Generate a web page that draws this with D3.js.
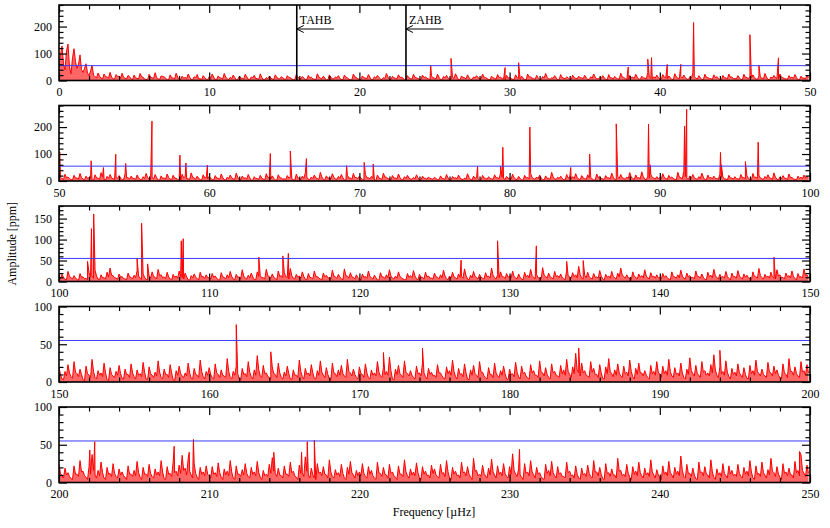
<!DOCTYPE html>
<html><head><meta charset="utf-8">
<script src="https://cdn.jsdelivr.net/npm/d3@7"></script>
<style>
body{margin:0;background:#fff}
text{font-family:"Liberation Serif","Times New Roman",serif;fill:#000}
</style>
</head><body>
<svg id="chart" width="830" height="528"></svg>
<script>
// ---------------- DATA ----------------
const panelRanges = [[0,50],[50,100],[100,150],[150,200],[200,250]];
const yMax = [280,280,180,100,100];
const yMajor = [100,100,50,50,50];
const yMinor = [20,20,10,10,10];
const xMajor = 10, xMinor = 2;
const threshold = 55;            // ppm, blue line
const step = 0.2;                // µHz between noise crests (troughs sit half-way)
const xLabel = "Frequency [µHz]";
const yLabel = "Amplitude [ppm]";

// noise crests, one every 0.2 µHz
const noise1 = [
70,128,40,135,25,118,45,95,30,62,18,56,14,28,9,24,13,30,6,22,15,27,8,19,5,
20,8,26,12,4,23,10,29,6,17,13,3,21,9,27,5,16,11,24,4,14,22,7,18,5,
14,24,4,17,9,26,6,12,20,3,15,8,23,5,13,19,7,25,3,11,16,6,21,8,14,
6,18,10,3,22,8,15,4,19,12,5,25,9,16,2,21,7,13,18,4,20,10,3,24,11,
5,17,9,22,3,14,19,6,11,26,4,16,8,21,12,3,18,7,23,10,5,20,13,6,17,
9,23,4,15,19,6,12,25,3,17,10,21,5,13,18,7,24,11,4,16,8,22,12,5,19,
11,5,21,9,16,3,24,13,7,19,4,15,26,6,10,18,2,22,9,14,5,20,8,16,10,
19,5,14,24,7,11,18,4,22,10,15,6,27,11,3,19,12,23,5,16,9,29,8,14,20,
6,22,11,17,4,25,9,15,20,5,12,28,8,18,4,23,11,7,21,14,3,19,10,24,13,
7,18,4,23,11,15,21,5,17,9,26,4,13,19,8,24,10,6,18,12,22,3,16,9,20];
const noise2 = [
30,9,25,15,5,21,11,28,7,18,13,4,23,10,31,6,17,24,8,14,20,5,27,12,18,
9,22,6,16,28,8,13,24,4,19,11,26,7,21,10,3,25,15,8,30,11,18,5,23,12,
17,6,20,10,26,5,14,22,8,29,6,18,12,24,3,16,9,21,7,27,13,19,4,23,11,
8,20,14,5,25,10,18,30,7,15,22,9,32,6,19,12,27,8,17,24,4,21,11,28,13,
18,6,24,12,17,3,22,9,29,14,7,20,11,26,5,16,21,8,13,23,4,18,10,15,8,
14,5,19,9,24,3,17,12,22,7,11,27,6,18,13,3,21,10,16,8,23,12,30,9,17,
11,25,7,17,4,21,13,28,9,15,22,6,19,10,32,8,14,18,5,24,12,16,27,7,20,
9,23,13,4,26,16,8,20,12,29,6,17,24,10,15,31,9,22,13,34,7,18,25,11,16,
13,27,9,21,15,6,32,12,36,10,19,24,8,16,29,5,22,13,18,9,25,14,7,21,11,
16,8,24,12,19,5,28,14,21,8,17,23,10,30,7,15,20,9,26,13,6,18,14,22,17];
const noise3 = [
10,17,5,24,9,14,4,19,11,7,21,13,27,6,16,9,22,32,14,8,18,12,6,20,10,
15,26,8,18,5,13,23,10,29,16,11,22,6,17,13,25,9,20,4,14,18,7,22,12,16,
9,19,13,4,21,10,16,24,6,17,11,28,8,15,20,5,23,14,9,29,12,18,7,25,14,
21,10,31,8,17,13,23,5,19,9,25,12,6,20,15,8,27,11,17,7,30,13,21,10,16,
6,18,12,25,9,15,4,21,11,16,28,8,13,23,9,5,19,14,26,7,17,10,22,13,8,
20,10,16,27,7,13,22,9,18,12,30,6,15,24,10,17,8,21,13,32,9,16,23,11,19,
13,25,9,18,6,22,15,29,10,16,8,33,12,20,9,24,14,18,7,27,11,21,16,36,9,
15,22,8,19,11,26,6,17,13,24,9,20,32,12,16,7,23,10,18,14,28,9,21,13,16,
9,19,14,6,23,11,16,27,8,20,14,10,25,12,18,5,22,15,29,9,17,12,24,7,20,
12,26,9,18,15,6,23,11,31,9,17,13,22,8,28,16,10,20,14,25,7,19,12,30,16];
const noise4 = [
19,4,14,23,7,27,11,17,3,21,9,30,6,15,12,25,3,19,8,14,22,5,17,10,24,
7,16,11,26,4,20,9,13,28,6,17,10,23,3,15,21,8,12,25,5,18,9,29,7,14,
19,6,24,10,16,8,31,6,14,21,4,18,11,27,7,16,35,8,22,12,5,20,10,25,6,
13,21,4,16,9,29,7,18,12,23,5,15,28,9,19,4,25,11,16,22,8,30,12,17,6,
20,10,24,6,16,12,27,8,19,14,33,4,17,22,9,28,11,15,6,21,12,25,7,18,13,
9,23,12,5,20,15,29,7,18,11,24,4,16,22,9,27,13,6,19,10,25,8,15,21,4,
17,11,26,7,21,13,5,23,15,9,28,12,19,6,24,14,8,22,16,30,10,20,38,12,25,
15,8,27,18,10,23,5,20,31,11,16,24,8,21,13,29,7,18,25,12,15,6,22,14,27,
10,21,15,30,8,19,12,25,6,17,32,11,22,9,27,15,12,23,36,9,20,14,28,7,18,
13,24,9,19,5,22,15,29,11,17,8,26,12,21,16,6,24,10,31,14,20,8,27,15,23];
const noise5 = [
24,9,19,13,5,22,11,29,15,7,21,37,10,16,27,6,20,12,25,8,18,14,7,22,11,
16,28,7,20,11,24,8,18,14,29,5,21,12,27,15,23,36,19,32,10,25,7,20,14,22,
9,21,13,26,7,18,15,29,6,22,11,17,25,8,20,14,28,7,16,11,24,33,12,19,9,
22,11,27,15,7,23,13,34,10,19,6,25,14,21,10,30,8,17,13,24,6,20,28,10,16,
14,25,8,21,16,6,27,12,20,10,24,14,7,22,11,30,9,18,14,26,6,21,15,10,23,
18,8,24,13,29,6,20,15,10,27,14,21,7,32,16,11,23,9,19,31,10,22,14,25,8,
21,38,11,18,7,25,14,29,10,20,13,5,24,16,28,9,21,13,8,27,15,10,22,6,19,
12,23,8,29,14,20,5,25,13,18,10,32,16,11,24,7,21,15,27,9,19,13,30,10,17,
6,22,14,28,10,20,15,35,8,24,12,19,5,27,14,21,10,30,7,18,13,25,9,22,16,
11,24,8,20,15,29,6,22,12,27,10,17,32,13,21,7,25,14,19,10,28,16,37,12,23];

// noise troughs, half-way between crests
const trough1 = [
95,60,110,50,85,70,60,40,45,28,35,20,10,16,6,14,9,13,5,15,8,12,6,14,4,
10,6,14,5,3,12,8,11,4,15,9,3,10,6,13,4,9,7,12,3,10,6,4,11,3,
8,12,4,10,6,13,3,7,11,4,9,6,14,3,10,7,4,12,3,7,9,4,11,6,10,
4,11,6,3,12,7,9,4,10,6,3,13,7,9,2,11,6,10,7,3,12,5,3,13,6,
3,10,7,12,4,9,11,3,7,13,4,10,6,11,9,3,10,5,12,7,4,11,8,3,10,
6,12,3,10,9,4,8,13,3,11,6,10,4,9,11,6,12,7,3,10,5,11,7,3,9,
7,4,11,6,10,3,13,9,4,10,3,9,12,5,8,10,3,11,6,9,4,11,6,10,7,
10,3,9,12,6,8,11,3,10,6,9,4,13,7,3,11,8,12,4,10,6,13,5,9,11,
5,12,7,10,3,13,6,9,11,4,8,14,6,10,3,12,7,4,11,9,3,10,6,12,7,
6,10,3,12,7,9,11,4,10,6,13,3,9,11,5,12,7,4,10,8,11,3,9,6,11];
const trough2 = [
14,6,12,9,4,11,7,13,5,10,8,3,12,6,15,4,10,12,6,9,11,4,13,7,10,
6,12,4,9,13,6,8,12,3,10,7,13,5,11,6,3,12,9,6,14,7,10,4,12,8,
10,4,11,6,13,4,9,12,6,14,5,10,7,12,3,9,6,11,4,13,8,10,3,12,7,
6,11,9,4,12,6,10,14,5,9,11,6,15,4,10,8,13,6,10,12,3,11,7,13,9,
10,4,12,8,10,3,11,6,14,9,4,11,7,13,4,9,11,6,8,12,3,10,6,9,6,
9,4,10,6,12,3,10,8,11,5,7,13,4,10,8,3,11,6,9,6,12,8,14,6,10,
7,12,5,10,3,11,8,13,6,9,11,4,10,6,15,6,9,10,4,12,7,9,13,5,11,
6,12,8,3,13,9,6,11,8,14,4,10,12,6,9,15,6,11,8,16,4,10,13,7,9,
8,13,6,11,9,4,15,8,16,6,10,12,6,9,14,4,11,8,10,6,12,9,4,11,7,
9,6,12,8,10,4,13,9,11,6,10,12,6,14,4,9,11,6,13,8,4,10,9,12,10];
const trough3 = [
6,10,4,12,6,9,3,10,7,4,11,8,13,4,9,6,11,15,9,5,10,7,4,11,6,
9,13,5,10,4,8,12,6,14,9,7,11,4,10,8,12,6,11,3,9,10,4,11,7,9,
6,10,8,3,11,6,9,12,4,10,7,13,6,9,11,4,12,9,6,14,8,10,4,12,9,
11,6,14,6,10,8,12,4,10,6,12,8,4,11,9,6,13,8,10,4,14,8,11,6,9,
4,10,8,12,6,9,3,11,7,9,13,6,8,12,6,4,10,9,13,4,10,6,11,8,6,
11,6,9,13,4,8,11,6,10,8,14,4,9,12,6,10,6,11,8,15,6,9,12,7,10,
8,12,6,10,4,11,9,14,6,9,6,15,8,11,6,12,9,10,4,13,8,11,9,16,6,
9,11,6,10,8,13,4,10,8,12,6,11,15,8,9,4,12,6,10,9,13,6,11,8,9,
6,10,9,4,12,8,9,13,6,11,9,6,12,8,10,4,11,9,14,6,10,8,12,4,11,
8,13,6,10,9,4,12,8,14,6,10,8,11,6,13,9,6,11,9,12,4,10,8,14,9];
const trough4 = [
10,3,8,12,5,13,7,10,2,11,6,14,4,9,7,12,2,10,6,9,11,4,10,6,12,
4,9,7,13,3,11,6,8,13,4,10,6,12,2,9,11,6,8,12,4,10,6,14,4,9,
10,4,12,6,9,6,14,4,9,11,3,10,7,13,4,9,16,6,11,8,4,11,6,12,4,
8,11,3,9,6,14,4,10,8,12,4,9,13,6,10,3,12,7,9,11,6,14,8,10,4,
11,6,12,4,9,8,13,6,10,9,15,3,10,11,6,13,8,9,4,11,8,12,4,10,8,
6,12,8,4,11,9,14,4,10,7,12,3,9,11,6,13,8,4,10,6,12,6,9,11,3,
10,7,13,4,11,8,4,12,9,6,13,8,10,4,12,9,6,11,9,14,6,11,16,8,12,
9,6,13,10,6,12,4,11,14,7,9,12,6,11,8,14,4,10,12,8,9,4,11,9,13,
6,11,9,14,6,10,8,12,4,10,15,8,11,6,13,9,8,12,16,6,11,9,13,4,10,
8,12,6,10,4,11,9,14,8,10,6,13,8,11,9,4,12,6,14,9,11,6,13,9,12];
const trough5 = [
12,6,10,8,4,11,8,14,9,4,11,16,6,9,13,4,11,8,12,6,10,9,4,11,8,
9,13,4,11,8,12,6,10,9,14,4,11,8,13,9,12,16,10,15,6,12,4,11,9,11,
6,11,8,13,4,10,9,14,4,11,8,10,12,6,11,9,13,4,9,8,12,15,8,10,6,
11,8,13,9,4,12,8,15,6,10,4,12,9,11,6,14,6,10,8,12,4,11,13,6,9,
9,12,6,11,9,4,13,8,11,6,12,9,4,11,8,14,6,10,9,13,4,11,9,6,12,
10,6,12,8,14,4,11,9,6,13,9,11,4,15,9,8,12,6,10,14,6,11,9,12,6,
11,16,8,10,4,12,9,14,6,11,8,4,12,9,13,6,11,8,6,13,9,6,11,4,10,
8,12,6,14,9,11,4,12,8,10,6,15,9,8,12,4,11,9,13,6,10,8,14,6,10,
4,11,9,13,6,11,9,16,6,12,8,10,4,13,9,11,6,14,4,10,8,12,6,11,9,
8,12,6,11,9,14,4,11,8,13,6,10,15,8,11,4,12,9,10,6,13,9,16,8,12];

// peaks: [frequency µHz, amplitude ppm]
const peaks1 = [[24.75,55],[26.1,82],[29.7,48],[30.6,66],[37.9,50],[39.2,79],[39.45,85],[40.5,60],[41.4,60],[42.25,215],[46.0,170],[46.6,56],[47.9,84]];
const peaks2 = [[50.05,108],[52.14,75],[52.96,50],[53.78,99],[54.44,65],[56.19,222],[58.05,96],[58.45,67],[59.88,59],[64.07,102],[65.4,111],[66.47,83],[69.15,57],[70.32,69],[70.92,63],[77.87,55],[79.4,55],[79.55,125],[81.35,200],[84.07,50],[85.33,100],[87.1,212],[89.25,211],[89.37,60],[91.65,204],[91.79,266],[94.04,106],[94.1,60],[95.7,72],[96.55,144]];
const peaks3 = [[101.9,48],[102.16,126],[102.31,161],[105.2,55],[105.5,139],[105.9,42],[108.14,97],[108.27,102],[113.3,58],[114.9,61],[115.27,67],[126.77,51],[129.2,97],[131.78,85],[133.8,48],[134.9,50],[147.6,58]];
const peaks4 = [[161.8,76],[164.1,40],[171.6,39],[174.2,45],[184.6,45],[194.0,42]];
const peaks5 = [[202.05,43],[202.38,54],[207.67,48],[208.67,40],[208.95,57],[214.3,40],[216.15,40],[216.53,54],[217.0,56],[230.66,44],[249.3,41]];

const noiseSets = [noise1,noise2,noise3,noise4,noise5];
const troughSets = [trough1,trough2,trough3,trough4,trough5];
const peakSets = [peaks1,peaks2,peaks3,peaks4,peaks5];

// annotations in panel 1
const markers = [
  {label:"TAHB", freq:15.83, arrowTo:18.3},
  {label:"ZAHB", freq:23.1,  arrowTo:25.6}
];

// ---------------- DRAW ----------------
const svg = d3.select("#chart");
const left = 59, right = 810, top0 = 5, pitch = 100.5, ph = 75.5;
const fs = 12;

panelRanges.forEach((range, i) => {
  const y0 = top0 + i*pitch, y1 = y0 + ph;
  const x = d3.scaleLinear().domain(range).range([left, right]);
  const y = d3.scaleLinear().domain([0, yMax[i]]).range([y1, y0]);
  const g = svg.append("g");

  const cid = "clip" + i;
  svg.append("clipPath").attr("id", cid).append("rect")
    .attr("x", left).attr("y", y0).attr("width", right-left).attr("height", ph);

  const crests = noiseSets[i].map((v,k) => [range[0] + k*step, v]);
  const troughs = troughSets[i].map((v,k) => [range[0] + k*step + step/2, v]);
  const series = crests.concat(troughs, peakSets[i]).sort((a,b) => a[0]-b[0]);

  // the real spectrum is so densely sampled that it reads as a filled band
  g.append("path").attr("clip-path", `url(#${cid})`)
    .attr("d", d3.area().x(d => x(d[0])).y0(y(0)).y1(d => y(d[1]))(series))
    .attr("fill", "#ff0000").attr("fill-opacity", 0.6).attr("stroke", "none");
  g.append("path").attr("clip-path", `url(#${cid})`)
    .attr("d", d3.line().x(d => x(d[0])).y(d => y(d[1]))(series))
    .attr("fill", "none").attr("stroke", "#ff0000").attr("stroke-width", 1.0)
    .attr("stroke-linejoin", "miter");

  g.append("line").attr("x1", x(range[0])).attr("x2", x(range[1]))
    .attr("y1", y(threshold)).attr("y2", y(threshold))
    .attr("stroke", "#3a3aff").attr("stroke-width", 1);

  const xMaj = d3.range(range[0], range[1] + 0.001, xMajor);
  const xMin = d3.range(range[0], range[1] + 0.001, xMinor).filter(v => !xMaj.includes(v));
  const yMaj = d3.range(0, yMax[i] + 0.001, yMajor[i]);
  const yMin = d3.range(0, yMax[i] + 0.001, yMinor[i]).filter(v => v % yMajor[i] !== 0);

  const styleAxis = sel => {
    sel.select(".domain").remove();
    sel.selectAll(".tick line").attr("stroke", "#000").attr("stroke-width", 1.2);
    sel.selectAll("text").attr("font-size", fs).attr("font-family", "Liberation Serif, serif");
  };

  g.append("g").attr("transform", `translate(0,${y1})`)
    .call(d3.axisBottom(x).tickValues(xMaj).tickSize(-8).tickPadding(7).tickFormat(d3.format("d"))).call(styleAxis);
  g.append("g").attr("transform", `translate(0,${y1})`)
    .call(d3.axisBottom(x).tickValues(xMin).tickSize(-4.5).tickFormat("")).call(styleAxis);
  g.append("g").attr("transform", `translate(0,${y0})`)
    .call(d3.axisTop(x).tickValues(xMaj).tickSize(-8).tickFormat("")).call(styleAxis);
  g.append("g").attr("transform", `translate(0,${y0})`)
    .call(d3.axisTop(x).tickValues(xMin).tickSize(-4.5).tickFormat("")).call(styleAxis);
  g.append("g").attr("transform", `translate(${left},0)`)
    .call(d3.axisLeft(y).tickValues(yMaj).tickSize(-8).tickPadding(7).tickFormat(d3.format("d"))).call(styleAxis);
  g.append("g").attr("transform", `translate(${left},0)`)
    .call(d3.axisLeft(y).tickValues(yMin).tickSize(-4.5).tickFormat("")).call(styleAxis);
  g.append("g").attr("transform", `translate(${right},0)`)
    .call(d3.axisRight(y).tickValues(yMaj).tickSize(-8).tickFormat("")).call(styleAxis);
  g.append("g").attr("transform", `translate(${right},0)`)
    .call(d3.axisRight(y).tickValues(yMin).tickSize(-4.5).tickFormat("")).call(styleAxis);

  g.append("rect").attr("x", left).attr("y", y0).attr("width", right-left).attr("height", ph)
    .attr("fill", "none").attr("stroke", "#000").attr("stroke-width", 1.6);

  if (i === 0) {
    markers.forEach(m => {
      const mx = x(m.freq), ay = y0 + 24;
      g.append("line").attr("x1", mx).attr("x2", mx).attr("y1", y0).attr("y2", y1)
        .attr("stroke", "#000").attr("stroke-width", 1.6);
      g.append("text").attr("x", mx + 3).attr("y", y0 + 19).attr("font-size", fs).text(m.label);
      g.append("line").attr("x1", mx).attr("x2", x(m.arrowTo)).attr("y1", ay).attr("y2", ay)
        .attr("stroke", "#000").attr("stroke-width", 1);
      g.append("path").attr("d", `M${mx+7},${ay-3.5}L${mx},${ay}L${mx+7},${ay+3.5}`)
        .attr("fill", "none").attr("stroke", "#000").attr("stroke-width", 1);
    });
  }
});

svg.append("text").attr("x", 434).attr("y", 515.5).attr("text-anchor", "middle")
  .attr("font-size", fs).text(xLabel);
svg.append("text").attr("transform", "translate(16,243.75) rotate(-90)")
  .attr("text-anchor", "middle").attr("font-size", fs).text(yLabel);
</script>
</body></html>
